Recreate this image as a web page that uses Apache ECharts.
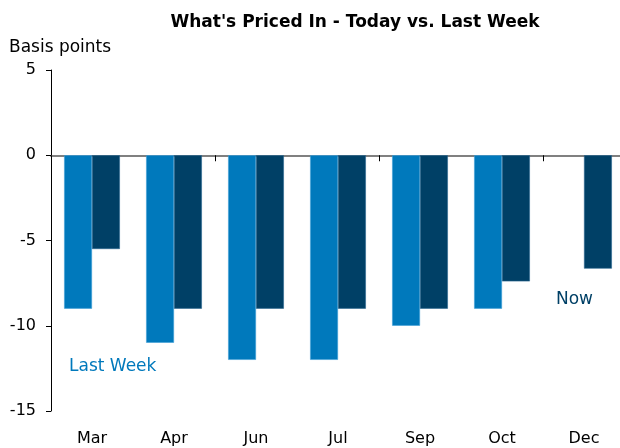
<!DOCTYPE html>
<html>
<head>
    <meta charset="utf-8">
    <script src="https://cdn.jsdelivr.net/npm/echarts@6/dist/echarts.min.js"></script>
</head>
<body style="margin:0">
<div id="main" style="width: 620px; height: 448px"></div>
<script type="text/javascript">
    var months = ['Mar', 'Apr', 'Jun', 'Jul', 'Sep', 'Oct', 'Dec'];
    var lastWeek = [-9, -11, -12, -12, -10, -9, null];
    var now = [-5.5, -9, -9, -9, -9, -7.4, -6.65];
    var yTicks = {min: -15, max: 5, interval: 5};

    var font = 'DejaVu Sans';
    var myChart = echarts.init(document.getElementById('main'));
    var option = {
        animation: false,
        backgroundColor: '#fff',
        title: {
            text: "What's Priced In - Today vs. Last Week",
            left: 350, top: 9, textAlign: 'center',
            textStyle: {fontFamily: font, fontSize: 17, fontWeight: 'bold', color: '#000'}
        },
        grid: {left: 51, top: 70, width: 574, bottom: 37, outerBoundsMode: 'none'},
        xAxis: [{
            type: 'category', data: months,
            axisLine: {show: false, onZero: false}, axisTick: {show: false},
            axisLabel: {fontFamily: font, fontSize: 16, color: '#000', margin: 20}
        }, {
            type: 'category', data: months, position: 'bottom',
            axisLine: {onZero: true, lineStyle: {color: '#808080', width: 2}},
            axisTick: {show: true, interval: 1, length: 6, lineStyle: {color: '#000', width: 1}},
            axisLabel: {show: false}
        }],
        yAxis: {
            type: 'value', min: yTicks.min, max: yTicks.max, interval: yTicks.interval,
            name: 'Basis points', nameLocation: 'end', nameGap: 14,
            nameTextStyle: {fontFamily: font, fontSize: 17, color: '#000', align: 'left', padding: [0, 0, 0, -42]},
            axisLine: {show: true, lineStyle: {color: '#000', width: 1}},
            axisTick: {show: true, length: 5, lineStyle: {color: '#000'}},
            splitLine: {show: false},
            axisLabel: {fontFamily: font, fontSize: 16, color: '#000', margin: 15}
        },
        series: [{
            name: 'Last Week', type: 'bar', xAxisIndex: 0, data: lastWeek,
            barGap: 0, barCategoryGap: '32%',
            itemStyle: {color: '#0079BC', borderColor: '#3FA0D6', borderWidth: 0.6}
        }, {
            name: 'Now', type: 'bar', xAxisIndex: 0, data: now,
            barGap: 0, barCategoryGap: '32%',
            itemStyle: {color: '#004066', borderColor: '#2a6690', borderWidth: 0.6}
        }],
        graphic: [{
            type: 'text', left: 69, top: 358,
            style: {text: 'Last Week', fontFamily: font, fontSize: 17, fill: '#0079BC'}
        }, {
            type: 'text', left: 556, top: 291,
            style: {text: 'Now', fontFamily: font, fontSize: 17, fill: '#004066'}
        }]
    };
    myChart.setOption(option);
</script>
</body>
</html>
